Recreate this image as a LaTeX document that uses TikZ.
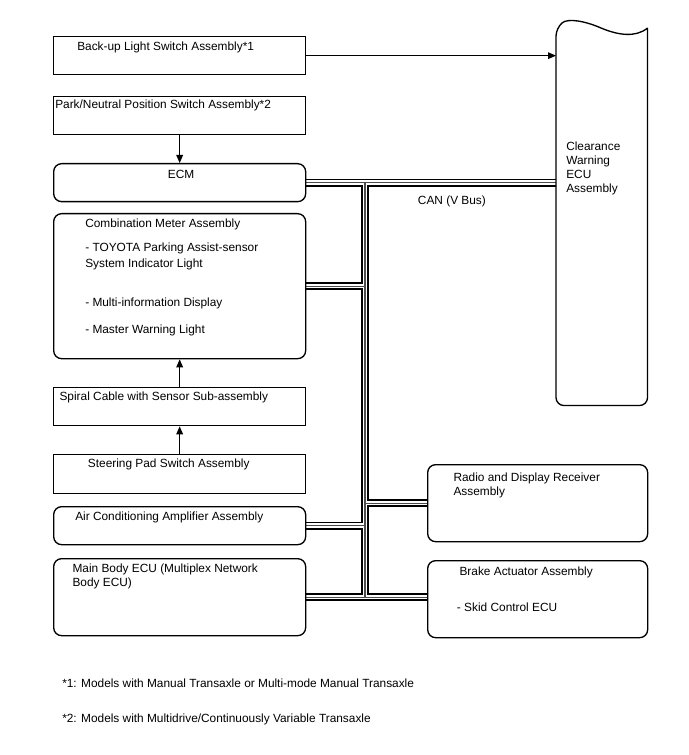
\documentclass[tikz,border=0pt]{standalone}
\usepackage{fontspec}
\setmainfont{Liberation Sans}
\usetikzlibrary{arrows.meta,calc,backgrounds}
\newcommand{\pxu}{0.75pt}
\tikzset{
  box/.style={draw=black,line width=1pt,fill=white,inner sep=0pt,anchor=north west},
  roundbox/.style={box,rounded corners=6pt},
  boxtext/.style={font=\fontsize{8.9}{10.5}\selectfont,align=left,inner sep=0pt,anchor=base west},
  arrow/.style={-{Triangle[length=6pt,width=5pt]},line width=.75pt},
  busouter/.style={line width=6.2pt,draw=black},
  businner/.style={line width=3.3pt,draw=white},
  buscore/.style={line width=.8pt,draw=black!70}
}
% CAN (V Bus) wiring, drawn once per layer of the bundle
\newcommand{\canbus}[1]{%
  \draw[#1] (ecm.east) -- (ecm.east -| cwecu.west);
  \draw[#1] (ecm.east -| trunk) -- (mainbody.east -| trunk);
  \draw[#1] (combo.east) -- (combo.east -| trunk);
  \draw[#1] (aircon.east) -- (aircon.east -| trunk);
  \draw[#1] (radio.west -| trunk) -- (radio.west);
  \draw[#1] (mainbody.east) -- (mainbody.east -| brake.west);
}

\begin{document}
\begin{tikzpicture}[x=0.75pt,y=-0.75pt]
  \useasboundingbox (0,0) rectangle (688,755);
  % left column
  \node[box,minimum width=252*\pxu,minimum height=38*\pxu] (backup) at (53,36) {};
  \node[box,minimum width=252*\pxu,minimum height=38*\pxu] (park) at (53,96) {};
  \node[roundbox,minimum width=252*\pxu,minimum height=38*\pxu] (ecm) at (53,163) {};
  \node[roundbox,minimum width=252*\pxu,minimum height=145*\pxu] (combo) at (53,213) {};
  \node[box,minimum width=252*\pxu,minimum height=38*\pxu] (spiral) at (53,387) {};
  \node[box,minimum width=252*\pxu,minimum height=39*\pxu] (steering) at (53,454) {};
  \node[roundbox,minimum width=252*\pxu,minimum height=38*\pxu] (aircon) at (53,506) {};
  \node[roundbox,minimum width=252*\pxu,minimum height=77*\pxu] (mainbody) at (53,558) {};
  % right column
  \node[roundbox,minimum width=220*\pxu,minimum height=77*\pxu] (radio) at (427,464) {};
  \node[roundbox,minimum width=220*\pxu,minimum height=77*\pxu] (brake) at (427,560) {};
  \node[inner sep=0pt,minimum width=91*\pxu,minimum height=377*\pxu,anchor=north west] (cwecu) at (556,28) {};
  \draw[line width=1pt] (cwecu.north east) [rounded corners=6pt] -- (cwecu.south east) -- (cwecu.south west) -- (cwecu.north west)
    [sharp corners] .. controls ($(cwecu.north west)+(12,-10)$) and ($(cwecu.north west)+(29,-7)$) .. ($(cwecu.north west)+(45,0)$)
    .. controls ($(cwecu.north east)+(-30,7)$) and ($(cwecu.north east)+(-12,10)$) .. (cwecu.north east);
  \coordinate (trunk) at (365,0);
  % texts (multi-line ones sit on the baseline of their last line)
  \node[boxtext] (backuptext) at (77,50.5) {Back-up Light Switch Assembly*1};
  \node[boxtext] (parktext) at (55,109) {Park/Neutral Position Switch Assembly*2};
  \node[boxtext] (ecmtext) at (167.7,178.3) {ECM};
  \node[boxtext] (combotext) at (85,333.3) {Combination Meter Assembly\\[7.7pt]- TOYOTA Parking Assist-sensor\\[1.7pt]System Indicator Light\\[18.5pt]- Multi-information Display\\[9.5pt]- Master Warning Light};
  \node[boxtext] (spiraltext) at (59.3,400) {Spiral Cable with Sensor Sub-assembly};
  \node[boxtext] (steeringtext) at (87.7,467.7) {Steering Pad Switch Assembly};
  \node[boxtext] (aircontext) at (75,520) {Air Conditioning Amplifier Assembly};
  \node[boxtext] (mainbodytext) at (72.3,586) {Main Body ECU (Multiplex Network\\Body ECU)};
  \node[boxtext] (radiotext) at (453.3,495.7) {Radio and Display Receiver\\Assembly};
  \node[boxtext] (braketext) at (459.3,575.7) {Brake Actuator Assembly};
  \node[boxtext] (skidtext) at (456.7,611.7) {- Skid Control ECU};
  \node[boxtext] (cwecutext) at (566,192.5) {Clearance\\Warning\\ECU\\Assembly};
  \node[boxtext] (canlabel) at (417.7,205) {CAN (V Bus)};
  \node[boxtext] (note1) at (62,687.5) {*1: Models with Manual Transaxle or Multi-mode Manual Transaxle};
  \node[boxtext] (note2) at (62,722) {*2: Models with Multidrive/Continuously Variable Transaxle};
  % direct lines
  \draw[arrow] (backup.east) -- (backup.east -| cwecu.west);
  \draw[arrow] (park.south) -- (ecm.north);
  \draw[arrow] (spiral.north) -- (combo.south);
  \draw[arrow] (steering.north) -- (spiral.south);
  % CAN bus
  \begin{pgfonlayer}{background}
    \canbus{busouter}
    \canbus{businner}
    \canbus{buscore}
  \end{pgfonlayer}
\end{tikzpicture}
\end{document}
